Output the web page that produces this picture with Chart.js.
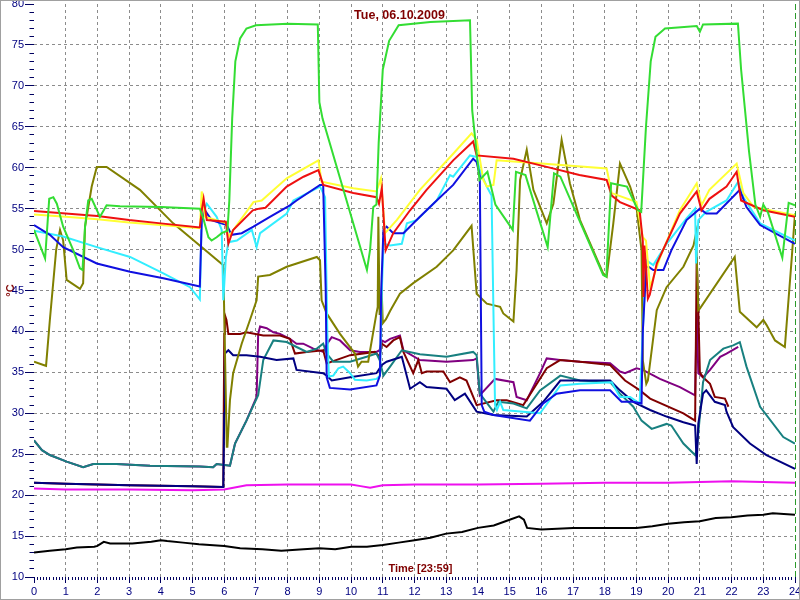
<!DOCTYPE html>
<html>
<head>
<meta charset="utf-8">
<script src="https://cdn.jsdelivr.net/npm/chart.js@4.4.1/dist/chart.umd.min.js"></script>
<style>
  html, body { margin: 0; padding: 0; background: #ffffff; }
  #wrap { width: 800px; height: 600px; position: relative; }
</style>
</head>
<body>
<div id="wrap"><canvas id="c" width="800" height="600"></canvas></div>
<script>
// ---------------- DATA (hour of day, °C) ----------------
const TITLE = 'Tue, 06.10.2009';
const X_TITLE = 'Time [23:59]';
const Y_TITLE = '°C';
const X_MIN = 0, X_MAX = 24;
const Y_MIN = 10, Y_MAX = 80;

const green = [[0,52.4],[0.35,48.9],[0.48,56.2],[0.61,56.4],[0.72,55.6],[0.92,52.8],[1.24,49.9],[1.45,47.7],[1.53,47.5],[1.61,52.8],[1.71,56],[1.82,56.2],[2.08,54],[2.29,55.4],[2.71,55.3],[4.0,55.2],[5.23,55],[5.34,53.8],[5.5,51.5],[5.6,51.1],[5.76,51.5],[5.92,52],[6.1,52.3],[6.16,56],[6.25,66],[6.35,73],[6.5,75.8],[6.7,77],[7.0,77.4],[8.0,77.6],[8.95,77.5],[9.0,68],[9.1,66],[10.5,47.5],[10.6,50],[10.7,55.2],[10.8,55.5],[10.87,63],[11.0,72],[11.2,75.5],[11.5,77.4],[12.5,77.8],[13.75,78],[13.82,67],[14.05,58.5],[14.3,59.5],[14.55,55.5],[15.1,52.4],[15.2,59.5],[15.5,59.1],[16.2,50.3],[16.4,59.3],[16.6,58.9],[17.95,46.9],[18.05,46.7],[18.2,58.1],[18.7,57.7],[19.05,54.8],[19.15,54.6],[19.3,65],[19.45,73],[19.6,76],[19.9,77],[20.9,77.3],[21.0,76.6],[21.1,77.5],[22.2,77.6],[22.3,72],[22.55,62],[22.75,55.5],[22.9,54],[23.0,55.5],[23.15,54.5],[23.6,49],[23.8,55.7],[24,55.4]];

const red = [[0,54.7],[1,54.4],[2,54.1],[3,53.6],[4,53.2],[5.23,52.7],[5.3,55],[5.35,56.2],[5.45,53.6],[6.05,53.4],[6.13,50.7],[6.28,52.4],[6.9,54.8],[7.1,55],[7.3,55.1],[7.97,57.7],[8.5,58.9],[8.97,59.7],[9.12,57.9],[10.07,56.9],[10.8,56.4],[10.88,55.6],[10.97,57.5],[11.09,49.9],[11.33,52],[11.86,54.8],[12.38,57.3],[13.22,60.9],[13.85,63.2],[13.96,61.5],[15.12,61.1],[16.17,60.1],[17.2,59.1],[18.06,58.5],[18.22,56.6],[18.48,55.8],[19.1,54.8],[19.2,51],[19.22,44.2],[19.25,50.5],[19.3,48],[19.36,44],[19.42,44.5],[19.64,48.3],[20.37,54.4],[20.9,57.1],[21.05,54.8],[21.3,56.2],[21.84,57.7],[22.16,59.5],[22.3,56],[23.0,54.8],[24,54]];

const yellow = [[0,54.3],[1,54],[2,53.7],[3,53.3],[4,53],[5.23,52.6],[5.29,57.1],[5.39,54],[6.08,53.2],[6.12,51.5],[6.92,55.8],[7.18,56],[7.97,58.7],[8.97,60.9],[9.07,58.3],[10.07,57.5],[10.8,57.1],[10.94,58.7],[11.07,52],[11.44,53.6],[12.17,57.3],[13.22,61.7],[13.8,64.2],[13.96,63.4],[14.17,58.5],[14.28,57.7],[14.49,57.9],[14.59,60.9],[16,60.5],[18.06,59.9],[18.22,56.9],[19.0,55.8],[19.2,51.5],[19.3,51.1],[19.43,45.4],[19.75,49.1],[20.37,54.8],[20.9,58.1],[21.05,55.4],[21.3,57.3],[22.16,60.5],[22.37,56.9],[22.7,55.2],[24,54.2]];

const blue = [[0,53],[0.5,51.8],[0.92,50.3],[1.98,48.3],[3.03,47.3],[4.08,46.5],[5.23,45.5],[5.29,53.6],[5.39,54.8],[5.6,53.6],[6.08,53],[6.23,51.8],[6.55,52],[6.92,52.8],[7.44,54],[8.07,55.4],[8.28,56],[9.02,57.9],[9.12,57.9],[9.2,45],[9.23,34.4],[9.33,33.1],[9.97,32.9],[10.8,33.4],[10.91,34.6],[10.95,45],[11.02,52.4],[11.12,52.8],[11.33,52],[11.65,52],[12.17,54],[12.7,56],[13.22,57.9],[13.85,61.1],[13.96,60.7],[14.06,59],[14.12,31],[14.2,30.2],[14.49,29.8],[15.64,29.1],[16.06,31.2],[16.48,32.4],[17.22,32.8],[18.17,32.8],[18.53,31.4],[18.9,31.4],[19.16,31.2],[19.2,40],[19.31,47.9],[19.38,47.9],[19.53,47.5],[19.85,47.5],[20.1,49.9],[20.58,53.6],[21.0,55],[21.2,54.4],[21.53,54.4],[22.26,57.3],[22.47,55.2],[22.9,53],[24,50.7]];

const cyan = [[0,52.3],[0.92,51.6],[1.98,50.3],[3.03,49.1],[4.08,47.1],[4.92,45.4],[5.23,43.9],[5.29,54],[5.45,55.6],[5.76,54],[5.92,52.4],[5.97,43.8],[6.05,49],[6.13,50.9],[6.4,51.1],[6.87,52.4],[7.02,50.3],[7.13,52],[7.97,54.4],[8.18,56],[9.02,57.7],[9.18,56.4],[9.25,40],[9.3,34.5],[9.44,34.6],[9.6,35.5],[9.75,35.7],[9.97,34.9],[10.12,34.1],[10.49,34],[10.8,34.2],[10.91,34.6],[10.97,45],[11.02,50.7],[11.23,50.5],[11.6,50.7],[11.76,53.2],[12.07,53.6],[12.7,56],[13.12,59.1],[13.22,58.9],[13.75,61.5],[13.96,61.3],[14.06,59.7],[14.28,57.7],[14.43,56.6],[14.5,40],[14.54,31],[14.6,30.4],[14.7,31.4],[14.8,30.4],[15.96,30],[16.6,33.4],[17.22,33.6],[18.22,33.8],[18.48,32],[18.8,32],[19.1,31.2],[19.2,40],[19.3,48.7],[19.38,48.5],[19.53,48.1],[19.95,50.7],[20.58,53.8],[20.85,55],[20.88,48.3],[20.95,53.6],[21.2,54.6],[21.84,56],[22.21,58.3],[22.37,56.4],[22.9,53.2],[24,51.1]];

const olive = [[0,36.3],[0.3,35.9],[0.38,35.8],[0.5,41.4],[0.7,50],[0.82,52.4],[0.92,51.1],[1.03,46.3],[1.45,45.2],[1.55,45.9],[1.61,52.8],[1.82,57.7],[1.98,60.1],[2.29,60.1],[3.34,57.3],[4.39,53.2],[5.97,48.1],[6.02,38],[6.08,25.9],[6.1,25.9],[6.18,31.6],[6.28,34.9],[6.55,38.5],[6.81,41.4],[7.02,43.8],[7.07,46.7],[7.44,46.9],[7.97,47.9],[8.92,49.1],[9.02,48.7],[9.07,43.8],[9.23,42.2],[9.65,39.7],[10.12,37.3],[10.22,35.7],[10.33,36.3],[10.54,36.3],[10.6,37.7],[10.8,42.2],[10.84,43],[10.86,54],[10.9,42],[10.93,43.8],[10.97,44.5],[11.0,41],[11.1,41.5],[11.23,42.5],[11.54,44.6],[11.96,45.9],[12.7,47.9],[13.22,49.9],[13.8,52.9],[13.96,44.6],[14.28,43.4],[14.7,43],[14.8,42.2],[15.12,41.2],[15.22,47.5],[15.33,58.5],[15.54,62.2],[15.75,57.3],[16.17,53.2],[16.38,55.6],[16.64,63.4],[16.9,58.1],[17.22,53.6],[17.95,47.1],[18.06,46.7],[18.27,53.2],[18.48,60.5],[18.8,57.7],[19.0,55.2],[19.16,49.9],[19.2,36.5],[19.31,33.6],[19.36,34],[19.64,42.6],[19.95,45.4],[20.48,47.9],[20.8,50.5],[20.88,52],[20.95,42.6],[21.0,42.8],[22.1,49.1],[22.26,42.4],[22.79,40.5],[23.0,41.4],[23.1,40.8],[23.37,38.9],[23.68,38.1],[23.9,49.1],[24,54.4]];

const teal = [[0,26.7],[0.25,25.5],[0.5,24.9],[1.03,24.1],[1.55,23.4],[1.87,23.8],[2.6,23.8],[3.66,23.6],[5.23,23.5],[5.65,23.4],[5.76,23.8],[6.18,23.6],[6.34,26.3],[6.7,29.1],[7.07,32.2],[7.23,36.5],[7.55,38.9],[7.97,38.7],[8.28,38.1],[8.6,37.5],[8.92,37.9],[9.12,38.5],[9.23,37.3],[9.44,36.3],[9.97,36.3],[10.49,36.9],[10.8,37.3],[10.9,36.5],[11.02,34.6],[11.23,35.7],[11.6,37.7],[12.17,37.2],[13.01,36.9],[13.85,37.5],[13.96,37.1],[14.06,32.4],[14.49,30.2],[14.64,31.4],[15.12,31.2],[15.54,30.6],[15.96,32.8],[16.6,34.6],[17.22,34],[18.17,33.8],[18.48,32.4],[18.9,30.8],[19.16,29.1],[19.48,28.1],[19.95,28.7],[20.1,28.5],[20.48,26.3],[20.85,24.9],[20.9,25.5],[21.1,33.8],[21.32,36.5],[21.74,37.9],[22.05,38.3],[22.26,38.7],[22.47,35.7],[22.9,30.8],[23.63,27.1],[24,26.3]];

const navy = [[0,21.5],[1,21.4],[3,21.2],[5,21.1],[5.97,21.0],[6.0,30],[6.02,37.3],[6.13,37.7],[6.28,37.1],[6.7,37.1],[7.13,36.9],[7.65,36.5],[8.18,36.7],[8.28,35.3],[9.12,34.9],[9.23,34.6],[9.39,34],[9.97,34.4],[10.8,34.9],[10.97,35.9],[11.12,36.3],[11.6,36.9],[11.86,33],[12.17,33.8],[12.38,33.2],[13.01,33],[13.27,31.6],[13.59,32.4],[13.96,30.2],[14.49,29.8],[15.54,29.6],[16.06,31.4],[16.6,34],[18.17,34],[18.48,32.8],[18.9,31.4],[19.43,30.4],[19.95,29.6],[20.48,28.9],[20.85,28.5],[20.9,23.8],[20.95,28.7],[21.1,32.4],[21.2,32.8],[21.47,31.4],[21.79,31],[21.84,30.2],[22.05,28.3],[22.58,26.3],[23.1,24.9],[24,23.2]];

const maroon = [[0,21.5],[1,21.4],[3,21.2],[5,21.1],[5.97,21.0],[6.0,39.7],[6.02,42],[6.07,41.4],[6.13,39.7],[6.5,39.7],[6.7,39.9],[7.23,39.5],[7.76,39.5],[8.07,39.1],[8.23,37.3],[8.6,37.5],[9.12,37.7],[9.23,36.1],[9.97,37.1],[10.75,37.5],[10.9,36.9],[10.97,38.5],[11.12,38.1],[11.33,38.9],[11.54,39.3],[11.65,37.5],[11.96,34.9],[12.12,36.5],[12.23,34.9],[12.38,35.1],[12.91,35.1],[13.12,33.8],[13.43,34.4],[13.64,34],[13.96,31],[14.59,31.6],[14.91,31.6],[15.43,31],[16.17,35.5],[16.59,36.5],[17.22,36.3],[18.17,35.9],[18.64,34],[19.11,32.8],[19.43,31.8],[20.48,30],[20.85,29.1],[20.9,49.1],[20.95,42.6],[21.0,35],[21.1,34.4],[21.32,33.6],[21.47,32],[21.79,31.8],[21.9,30.8]];

const purple = [[0,26.7],[0.25,25.5],[0.5,24.9],[1.03,24.1],[1.55,23.4],[1.87,23.8],[2.6,23.8],[3.66,23.6],[5.23,23.5],[5.65,23.4],[5.76,23.8],[6.18,23.6],[6.34,26.3],[6.7,29.1],[7.02,32],[7.07,39.7],[7.13,40.6],[7.34,40.4],[7.55,39.9],[7.76,39.7],[8.07,39.1],[8.28,38.5],[8.49,38.5],[8.81,37.9],[9.12,37.5],[9.28,38.7],[9.39,39.3],[9.65,38.9],[9.97,37.7],[10.28,37.5],[10.8,37.5],[10.9,37.7],[10.97,38.9],[11.07,38.7],[11.23,39.1],[11.54,39.5],[11.65,37.7],[12.17,36.5],[13.01,36.3],[13.85,36.5],[13.96,36.7],[14.06,32.2],[14.54,34.2],[15.12,33.8],[15.22,32],[15.54,31.6],[15.96,34.9],[16.17,36.7],[16.59,36.5],[17.22,36.3],[18.17,36.1],[18.48,35.1],[18.64,34.9],[19.0,35.5],[19.2,35.3],[19.74,34.2],[20.37,33.2],[20.85,32.2],[20.9,42.6],[20.95,34.9],[21.1,34.4],[21.32,35.3],[21.64,36.9],[21.84,37.3],[22.21,38.1]];

const magenta = [[0,20.8],[1,20.7],[3,20.7],[5,20.6],[6,20.7],[6.7,21.2],[8,21.3],[10,21.3],[10.3,21.1],[10.6,20.9],[11,21.2],[12,21.3],[14,21.3],[16,21.4],[18,21.5],[20,21.5],[21,21.6],[22,21.7],[23,21.6],[24,21.5]];

const black = [[0,13.0],[0.5,13.2],[1,13.4],[1.35,13.6],[1.9,13.7],[2.0,13.8],[2.2,14.3],[2.4,14.1],[3.1,14.1],[3.7,14.3],[4.0,14.5],[4.2,14.4],[4.7,14.2],[5.2,14.0],[6.0,13.8],[6.5,13.5],[7.2,13.4],[7.8,13.2],[8.5,13.4],[9.0,13.5],[9.5,13.4],[10.0,13.7],[10.5,13.7],[11.0,13.9],[11.5,14.2],[12.0,14.5],[12.5,14.8],[13.0,15.3],[13.5,15.5],[14.0,16.0],[14.5,16.3],[15.0,17.0],[15.3,17.4],[15.45,17.0],[15.55,16.0],[16.0,15.8],[17.0,16.0],[18.0,16.0],[19.0,16.0],[19.5,16.2],[20.0,16.5],[20.5,16.7],[21.0,16.8],[21.5,17.2],[22.0,17.3],[22.5,17.5],[23.0,17.6],[23.3,17.8],[24,17.6]];

// ---------------- CHART ----------------
const FONT = '"Liberation Sans", Arial, sans-serif';
const toXY = arr => arr.map(p => ({ x: p[0], y: p[1] }));
const isInt = v => Math.abs(v - Math.round(v)) < 1e-6;

const series = [
  { data: green,   color: '#33dd33' },
  { data: red,     color: '#ee1010' },
  { data: yellow,  color: '#ffff33' },
  { data: blue,    color: '#1010e0' },
  { data: cyan,    color: '#33eeff' },
  { data: olive,   color: '#808000' },
  { data: navy,    color: '#000080' },
  { data: teal,    color: '#188080' },
  { data: maroon,  color: '#800000' },
  { data: purple,  color: '#800080' },
  { data: magenta, color: '#ee10ee' },
  { data: black,   color: '#000000' }
];

const overlay = {
  id: 'overlay',
  afterDraw(chart) {
    const { ctx, chartArea } = chart;
    const cx = (chartArea.left + chartArea.right) / 2;
    ctx.save();
    ctx.fillStyle = '#800000';
    ctx.textAlign = 'center';
    ctx.textBaseline = 'middle';
    ctx.font = 'bold 12.5px ' + FONT;
    ctx.fillText(TITLE, cx - 15, chartArea.top + 12);
    ctx.font = 'bold 11px ' + FONT;
    ctx.fillText(X_TITLE, cx + 6, chartArea.bottom - 8);
    ctx.strokeStyle = '#a0a0a0';
    ctx.lineWidth = 1;
    ctx.strokeRect(0.5, 0.5, chart.width - 1, chart.height - 1);
    ctx.restore();
  }
};

new Chart(document.getElementById('c'), {
  type: 'line',
  data: {
    datasets: series.map(s => ({
      data: toXY(s.data),
      borderColor: s.color,
      backgroundColor: s.color,
      borderWidth: 2,
      pointRadius: 0,
      tension: 0,
      fill: false
    }))
  },
  options: {
    responsive: false,
    animation: false,
    devicePixelRatio: 1,
    layout: { padding: { top: 4, right: 5, left: 0, bottom: 0 } },
    plugins: { legend: { display: false }, tooltip: { enabled: false }, title: { display: false } },
    scales: {
      x: {
        type: 'linear', min: X_MIN, max: X_MAX,
        afterFit(s) { s.height = 23; s.paddingLeft = 0; s.paddingRight = 0; },
        ticks: {
          stepSize: 0.1, autoSkip: false, maxRotation: 0, minRotation: 0,
          color: '#000080', font: { family: FONT, size: 11 }, padding: 2,
          callback: v => isInt(v) ? String(Math.round(v)) : ''
        },
        grid: {
          color: c => {
            const v = c.tick ? c.tick.value : 0;
            if (!isInt(v) || v <= X_MIN) return 'rgba(0,0,0,0)';
            if (v >= X_MAX) return '#2a9a2a';
            return '#8c8c8c';
          },
          tickColor: '#000060',
          tickLength: 6,
          tickBorderDash: c => (c.tick && isInt(c.tick.value)) ? [] : [3, 20],
          lineWidth: 1
        },
        border: { display: false, dash: c => (c.tick && c.tick.value >= X_MAX) ? [6, 3] : [3, 3] }
      },
      y: {
        type: 'linear', min: Y_MIN, max: Y_MAX,
        afterFit(s) { s.width = 34; s.paddingTop = 0; s.paddingBottom = 0; },
        ticks: {
          stepSize: 1, autoSkip: false,
          color: '#000080', font: { family: FONT, size: 11 }, padding: 1,
          callback: v => (v % 5 === 0) ? String(v) : ''
        },
        grid: {
          color: c => {
            const v = c.tick ? c.tick.value : 0;
            if (v % 5 !== 0 || v <= Y_MIN || v >= Y_MAX) return 'rgba(0,0,0,0)';
            return '#8c8c8c';
          },
          tickColor: '#000060',
          tickLength: 9,
          tickBorderDash: c => (c.tick && c.tick.value % 5 === 0) ? [] : [0, 4.5, 4.5, 50],
          lineWidth: 1
        },
        border: { display: false, dash: [3, 3] },
        title: { display: true, text: Y_TITLE, color: '#800000', font: { family: FONT, size: 11, weight: 'bold' }, padding: { top: 4, bottom: 0 } }
      }
    }
  },
  plugins: [overlay]
});
</script>
</body>
</html>
